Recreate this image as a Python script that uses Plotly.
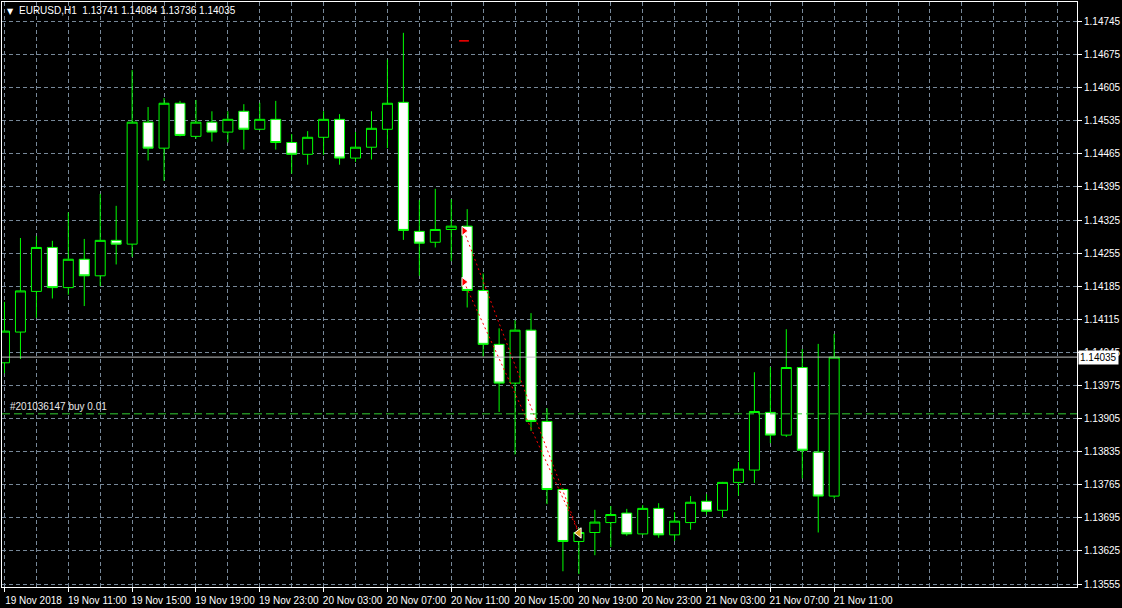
import pandas as pd
import plotly.graph_objects as go

# ---------------- data ----------------
chart_title = "EURUSD,H1\u00a0\u00a01.13741 1.14084 1.13736 1.14035"
bar_times = pd.date_range("2018-11-19 07:00", periods=53, freq="h")

open_prices = [1.14023, 1.14088, 1.14174, 1.14267, 1.14182, 1.14242, 1.14207, 1.14282, 1.14274, 1.14532,
               1.14477, 1.14572, 1.14502, 1.14532, 1.14511, 1.14555, 1.14517, 1.14538, 1.14489, 1.14464,
               1.14500, 1.14538, 1.14456, 1.14479, 1.14517, 1.14574, 1.14301, 1.14278, 1.14305, 1.14312,
               1.14176, 1.14062, 1.13980, 1.14092, 1.13899, 1.13755, 1.13645, 1.13664, 1.13685, 1.13705,
               1.13661, 1.13715, 1.13659, 1.13685, 1.13730, 1.13711, 1.13770, 1.13796, 1.13918, 1.13870,
               1.14013, 1.13834, 1.13741]
high_prices = [1.14152, 1.14287, 1.14291, 1.14281, 1.14341, 1.14285, 1.14380, 1.14355, 1.14642, 1.14564,
               1.14583, 1.14577, 1.14579, 1.14555, 1.14555, 1.14570, 1.14573, 1.14577, 1.14507, 1.14513,
               1.14555, 1.14549, 1.14511, 1.14555, 1.14664, 1.14721, 1.14367, 1.14391, 1.14369, 1.14348,
               1.14212, 1.14096, 1.14113, 1.14128, 1.13927, 1.13758, 1.13673, 1.13712, 1.13720, 1.13714,
               1.13722, 1.13726, 1.13707, 1.13741, 1.13745, 1.13771, 1.13813, 1.14003, 1.14014, 1.14094,
               1.14052, 1.14063, 1.14084]
low_prices = [1.14001, 1.14031, 1.14118, 1.14159, 1.14167, 1.14143, 1.14185, 1.14231, 1.14247, 1.14451,
              1.14408, 1.14502, 1.14497, 1.14491, 1.14489, 1.14474, 1.14515, 1.14474, 1.14423, 1.14442,
              1.14463, 1.14442, 1.14448, 1.14453, 1.14477, 1.14283, 1.14207, 1.14267, 1.14238, 1.14140,
              1.14036, 1.13919, 1.13829, 1.13879, 1.13724, 1.13582, 1.13576, 1.13616, 1.13633, 1.13657,
              1.13659, 1.13653, 1.13646, 1.13670, 1.13702, 1.13696, 1.13742, 1.13769, 1.13853, 1.13866,
              1.13778, 1.13664, 1.13736]
close_prices = [1.14090, 1.14175, 1.14267, 1.14182, 1.14242, 1.14207, 1.14282, 1.14274, 1.14532, 1.14477,
                1.14572, 1.14504, 1.14532, 1.14511, 1.14538, 1.14517, 1.14538, 1.14489, 1.14464, 1.14500,
                1.14538, 1.14456, 1.14479, 1.14519, 1.14572, 1.14303, 1.14276, 1.14305, 1.14312, 1.14176,
                1.14062, 1.13980, 1.14092, 1.13899, 1.13755, 1.13645, 1.13664, 1.13686, 1.13702, 1.13661,
                1.13715, 1.13659, 1.13688, 1.13728, 1.13709, 1.13770, 1.13798, 1.13920, 1.13870, 1.14013,
                1.13838, 1.13741, 1.14035]

x_label_bars = [0, 4, 8, 12, 16, 20, 24, 28, 32, 36, 40, 44, 48, 52]
x_label_text = ["19 Nov 2018", "19 Nov 11:00", "19 Nov 15:00", "19 Nov 19:00", "19 Nov 23:00",
                "20 Nov 03:00", "20 Nov 07:00", "20 Nov 11:00", "20 Nov 15:00", "20 Nov 19:00",
                "20 Nov 23:00", "21 Nov 03:00", "21 Nov 07:00", "21 Nov 11:00"]
y_tick_values = [1.13555, 1.13625, 1.13695, 1.13765, 1.13835, 1.13905, 1.13975, 1.14045, 1.14115,
                 1.14185, 1.14255, 1.14325, 1.14395, 1.14465, 1.14535, 1.14605, 1.14675, 1.14745]
y_tick_text = ["%.5f" % v for v in y_tick_values]

current_price = 1.14035
order_price = 1.13915
order_label = "#201036147 buy 0.01"
trade_entry_bar = 29
trade_entry_prices = [1.14302, 1.14194]
trade_close_bar = 36
trade_close_price = 1.13663
trade_stop_price = 1.14704

# ---------------- styling ----------------
GREEN = "#00FF00"
GRID = "#778899"
FONT = "Liberation Sans, Arial, sans-serif"
T0 = bar_times[0]
hour = pd.Timedelta(hours=1)
x_range = [T0 - 0.15625 * hour, T0 + 67.21875 * hour]
y_range = [1.135487, 1.147862]

fig = go.Figure()
fig.add_trace(go.Candlestick(
    x=bar_times, open=open_prices, high=high_prices, low=low_prices, close=close_prices,
    increasing=dict(fillcolor="black", line=dict(color=GREEN, width=1)),
    decreasing=dict(fillcolor="white", line=dict(color=GREEN, width=1)),
    whiskerwidth=0, hoverinfo="skip", showlegend=False,
))

entry_x = bar_times[trade_entry_bar] - pd.Timedelta(minutes=12)
close_x = bar_times[trade_close_bar]
for p in trade_entry_prices:
    fig.add_trace(go.Scatter(x=[entry_x, close_x], y=[p, trade_close_price], mode="lines",
                             line=dict(color="#FF0000", width=1, dash="2px,3px"),
                             hoverinfo="skip", showlegend=False))
fig.add_trace(go.Scatter(x=[entry_x] * len(trade_entry_prices), y=trade_entry_prices, mode="markers",
                         marker=dict(symbol="triangle-right", size=8, color="#FF0000",
                                     line=dict(color="white", width=1)),
                         hoverinfo="skip", showlegend=False))
fig.add_trace(go.Scatter(x=[close_x], y=[trade_close_price], mode="markers",
                         marker=dict(symbol="triangle-left", size=9, color="#DAA520",
                                     line=dict(color="white", width=1)),
                         hoverinfo="skip", showlegend=False))
fig.add_trace(go.Scatter(x=[entry_x], y=[trade_stop_price], mode="markers",
                         marker=dict(symbol="line-ew", size=7, line=dict(color="#FF0000", width=1.5)),
                         hoverinfo="skip", showlegend=False))

fig.add_shape(type="line", xref="paper", x0=0, x1=1, yref="y", y0=current_price, y1=current_price,
              line=dict(color="#C0C0C0", width=1), layer="above")
fig.add_shape(type="line", xref="paper", x0=0, x1=1, yref="y", y0=order_price, y1=order_price,
              line=dict(color="#32CD32", width=1, dash="8px,4px"), layer="above")

fig.add_annotation(text="\u25BC", xref="paper", yref="paper", x=0, y=1, xanchor="left", yanchor="top",
                   xshift=3, yshift=-3, showarrow=False, font=dict(family="DejaVu Sans", size=8, color="white"))
fig.add_annotation(text=chart_title, xref="paper", yref="paper", x=0, y=1, xanchor="left", yanchor="top",
                   xshift=15, yshift=-1, showarrow=False, font=dict(family=FONT, size=10, color="white"))
fig.add_annotation(text=order_label, xref="paper", yref="y", x=0, y=order_price, xanchor="left",
                   yanchor="bottom", xshift=6, yshift=0, showarrow=False,
                   font=dict(family=FONT, size=10, color="#E8E8E8"))
fig.add_annotation(text="%.5f" % current_price, xref="paper", yref="y", x=1, y=current_price,
                   xanchor="left", yanchor="middle", xshift=1, showarrow=False, bgcolor="white",
                   borderpad=1, font=dict(family=FONT, size=10, color="black"))

fig.update_layout(
    width=1122, height=608,
    margin=dict(l=1, r=43, t=2, b=21),
    paper_bgcolor="black", plot_bgcolor="black",
    showlegend=False, boxgap=0.375, boxgroupgap=0,
    font=dict(family=FONT, size=10, color="white"),
    xaxis=dict(
        type="date", range=x_range, rangeslider=dict(visible=False),
        tickmode="array", tickvals=[bar_times[i] for i in x_label_bars], ticktext=x_label_text,
        ticks="outside", ticklen=4, tickcolor="white", ticklabelshift=29,
        showgrid=True, gridcolor=GRID, griddash="4px,3px", gridwidth=1,
        minor=dict(tick0=T0, dtick=2 * 3600000, showgrid=True, gridcolor=GRID,
                   griddash="4px,3px", gridwidth=1, ticks=""),
        showline=True, linecolor="white", linewidth=1, mirror=True, zeroline=False,
        tickfont=dict(family=FONT, size=10, color="white"),
    ),
    yaxis=dict(
        side="right", range=y_range, tickmode="array", tickvals=y_tick_values, ticktext=y_tick_text,
        ticks="outside", ticklen=4, tickcolor="white",
        showgrid=True, gridcolor=GRID, griddash="4px,3px", gridwidth=1,
        showline=True, linecolor="white", linewidth=1, mirror=True, zeroline=False,
        tickfont=dict(family=FONT, size=10, color="white"),
    ),
)

fig.write_html("out.html", config={"displayModeBar": False},
               post_script="document.body.style.margin='0';")
